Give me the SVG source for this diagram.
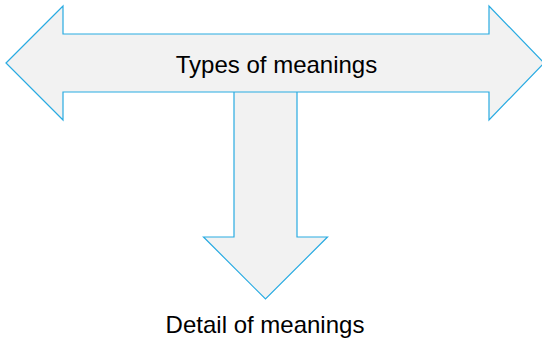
<svg xmlns="http://www.w3.org/2000/svg" width="542" height="339" viewBox="0 0 542 339">
<style>
.shape{fill:#f2f2f2;stroke:#29abe2;stroke-width:1.2;stroke-linejoin:miter}
.lbl{font-family:"Liberation Sans",Arial,sans-serif;font-size:24px;fill:#000;text-anchor:middle}
</style>
<rect width="542" height="339" fill="#ffffff"/>
<g id="connectors"></g>
<g id="detail-arrow">
<path class="shape" d="M234 92 L234 237 L203.5 237 L265.5 299 L327.5 237 L297 237 L297 92"/>
</g>
<g id="types-arrow">
<path class="shape" d="M6 63 L63 6 L63 34 L489 34 L489 6 L544 63 L489 120 L489 92 L63 92 L63 120 Z"/>
<text class="lbl" x="276.5" y="72.5">Types of meanings</text>
</g>
<g id="detail-label">
<text class="lbl" x="265" y="333">Detail of meanings</text>
</g>
</svg>
